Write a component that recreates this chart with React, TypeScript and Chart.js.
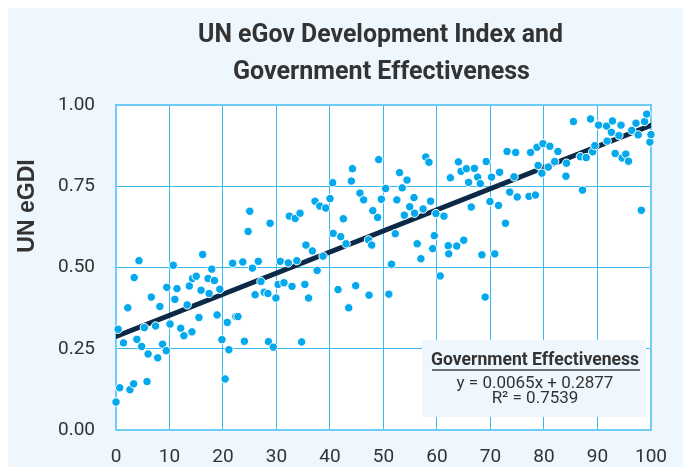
import React, { useEffect, useRef } from "react";
import { Chart, registerables } from "chart.js";

Chart.register(...registerables);

const titleLines = ["UN eGov Development Index and", "Government Effectiveness"];
const yAxisTitle = "UN eGDI";
const xMin = 0;
const xMax = 100;
const xStep = 10;
const yMin = 0;
const yMax = 1;
const yStep = 0.25;

const eGovX = [
  0.0, 0.7, 2.6, 3.3, 5.8, 0.4, 1.4, 2.2, 3.4, 4.3, 3.9, 4.8, 5.3, 6.0, 6.6, 7.4, 7.8, 8.2, 8.7, 9.4,
  9.5, 10.1, 10.7, 11.0, 11.4, 12.1, 12.7, 13.3, 13.7, 14.2, 14.3, 15.0, 15.5, 15.9, 16.2, 17.2, 17.4, 17.9, 18.4, 18.9,
  19.4, 19.8, 20.4, 20.8, 21.1, 21.8, 22.4, 22.8,
  23.7, 24.0, 24.7, 25.0, 25.5, 26.0, 26.6, 27.1, 27.7, 28.4, 28.5, 28.8, 29.4, 29.9, 30.3, 30.7, 31.4, 32.2, 32.4, 32.9,
  33.5, 33.8, 34.4, 34.7, 35.3, 35.5, 36.0, 36.7, 37.2, 37.6, 38.1, 38.7, 39.2, 40.0, 40.5, 40.6, 41.5, 42.0, 42.5, 43.0,
  43.5, 44.0, 44.2, 44.8, 45.6, 46.3,
  47.2, 47.3, 47.8, 48.0, 48.9, 49.1, 49.6, 50.4, 51.0, 51.5, 52.2, 52.5, 53.0, 53.5, 53.9, 54.4, 54.9, 55.7, 55.8, 56.3,
  57.0, 57.4, 57.9, 58.5, 58.8, 59.2, 59.5, 59.8, 60.6, 61.3, 62.1, 62.2, 62.5, 63.7, 64.0, 64.5, 65.0, 65.5, 65.9, 66.4,
  67.0, 67.6, 68.1, 68.4, 69.0, 69.2, 69.9, 70.2, 70.8, 71.5, 71.7,
  72.8, 73.1, 73.6, 74.4, 74.7, 75.0, 77.2, 77.5, 78.4, 78.7, 78.9, 79.6, 79.8, 80.8, 81.1, 82.0, 82.6, 84.1, 84.2, 85.5,
  86.8, 87.2, 87.9, 88.7, 89.1, 89.5, 90.2, 91.7, 91.8, 92.6, 92.8, 93.3, 94.0, 94.4, 94.6, 95.3, 95.8, 96.4, 97.2, 97.6,
  98.2, 98.8, 99.2, 99.8, 100.0,
];

const eGovY = [
  0.086, 0.13, 0.124, 0.142, 0.149, 0.31, 0.268, 0.376, 0.469, 0.521, 0.279, 0.257, 0.315, 0.234, 0.409, 0.32, 0.222, 0.38, 0.264, 0.244,
  0.439, 0.326, 0.507, 0.402, 0.435, 0.313, 0.29, 0.385, 0.443, 0.302, 0.466, 0.473, 0.346, 0.43, 0.54, 0.466, 0.42, 0.495, 0.46, 0.354,
  0.433, 0.278, 0.157, 0.331, 0.247, 0.513, 0.349, 0.349,
  0.517, 0.273, 0.611, 0.673, 0.498, 0.416, 0.519, 0.457, 0.424, 0.42, 0.272, 0.636, 0.255, 0.406, 0.448, 0.519, 0.453, 0.514, 0.658, 0.442,
  0.651, 0.521, 0.667, 0.271, 0.448, 0.569, 0.406, 0.551, 0.704, 0.491, 0.689, 0.535, 0.683, 0.712, 0.761, 0.605, 0.432, 0.595, 0.65, 0.573,
  0.376, 0.766, 0.804, 0.444, 0.729, 0.708,
  0.585, 0.415, 0.569, 0.675, 0.654, 0.832, 0.71, 0.743, 0.418, 0.51, 0.604, 0.708, 0.792, 0.745, 0.661, 0.769, 0.687, 0.715, 0.667, 0.573,
  0.527, 0.68, 0.84, 0.824, 0.704, 0.558, 0.598, 0.666, 0.474, 0.658, 0.567, 0.542, 0.776, 0.566, 0.825, 0.796, 0.584, 0.804, 0.762, 0.686,
  0.805, 0.778, 0.758, 0.539, 0.409, 0.826, 0.703, 0.778, 0.542, 0.691, 0.793,
  0.636, 0.857, 0.732, 0.779, 0.854, 0.717, 0.719, 0.854, 0.723, 0.87, 0.814, 0.79, 0.881, 0.809, 0.873, 0.826, 0.857, 0.781, 0.821, 0.949,
  0.841, 0.738, 0.838, 0.957, 0.856, 0.875, 0.938, 0.935, 0.889, 0.916, 0.951, 0.851, 0.906, 0.938, 0.837, 0.849, 0.827, 0.922, 0.944, 0.908,
  0.676, 0.949, 0.972, 0.886, 0.909,
];

const trendName = "Government Effectiveness";
const trendSlope = 0.0065;
const trendIntercept = 0.2877;
const trendR2 = 0.7539;
const trendXs = [0, 100];

const BG = "#eef7fd";
const GRID = "#3ab9f0";
const BORDER = "#6fcdf5";
const DOT = "#03a9ec";
const LINE = "#0c2a47";
const TEXT = "#333333";

// draw text centred at (cx, cy), stretched horizontally to the given width
function fittedText(ctx: any, text: string, cx: number, cy: number, font: string, width: number) {
  ctx.save();
  ctx.font = font;
  const w = ctx.measureText(text).width;
  const s = width / w;
  ctx.translate(cx, cy);
  ctx.scale(s, 1);
  ctx.textAlign = "center";
  ctx.textBaseline = "middle";
  ctx.fillText(text, 0, 0);
  ctx.restore();
}

export default function App() {
  const ref = useRef<HTMLCanvasElement | null>(null);

  useEffect(() => {
    if (!ref.current) return;
    const points = eGovX.map((x, i) => ({ x, y: eGovY[i] }));
    const trend = trendXs.map((x) => ({ x, y: trendSlope * x + trendIntercept }));

    const decor = {
      id: "decor",
      beforeDraw(chart: any) {
        const { ctx, chartArea: a } = chart;
        ctx.save();
        ctx.fillStyle = "#ffffff";
        ctx.fillRect(a.left, a.top, a.right - a.left, a.bottom - a.top);
        ctx.restore();
      },
      beforeDatasetsDraw(chart: any) {
        const { ctx, chartArea: a } = chart;
        ctx.save();
        ctx.strokeStyle = BORDER;
        ctx.lineWidth = 2;
        ctx.strokeRect(a.left, a.top, a.right - a.left, a.bottom - a.top);
        ctx.restore();
      },
      afterDraw(chart: any) {
        const { ctx } = chart;
        // chart title
        ctx.save();
        ctx.fillStyle = TEXT;
        fittedText(ctx, titleLines[0], 372.5, 28, "bold 25px Roboto, sans-serif", 365);
        fittedText(ctx, titleLines[1], 373.5, 65, "bold 25px Roboto, sans-serif", 297);
        ctx.restore();

        // y axis title
        ctx.save();
        ctx.translate(20, 198);
        ctx.rotate(-Math.PI / 2);
        ctx.fillStyle = TEXT;
        ctx.font = "bold 23px 'Liberation Sans', Arial, sans-serif";
        ctx.textAlign = "center";
        ctx.textBaseline = "middle";
        ctx.fillText(yAxisTitle, 0, 0);
        ctx.restore();

        // trend legend box
        ctx.save();
        ctx.fillStyle = BG;
        ctx.fillRect(414, 332, 224, 77);
        const cx = 527;
        ctx.fillStyle = TEXT;
        fittedText(ctx, trendName, cx, 352, "bold 18px Roboto, sans-serif", 208);
        ctx.strokeStyle = "#444";
        ctx.lineWidth = 1.5;
        ctx.beginPath();
        ctx.moveTo(424, 362);
        ctx.lineTo(632, 362);
        ctx.stroke();
        ctx.textAlign = "center";
        ctx.textBaseline = "middle";
        ctx.font = "17px Roboto, sans-serif";
        ctx.fillText(`y = ${trendSlope.toFixed(4)}x + ${trendIntercept.toFixed(4)}`, cx, 376);
        ctx.fillText(`R² = ${trendR2.toFixed(4)}`, cx, 391);
        ctx.restore();
      },
    };

    const chart = new Chart(ref.current, {
      type: "scatter",
      data: {
        datasets: [
          {
            type: "scatter",
            label: "UN eGDI",
            data: points,
            backgroundColor: DOT,
            borderColor: "#ffffff",
            borderWidth: 1,
            pointRadius: 4.2,
            clip: false as any,
            order: 0,
          },
          {
            type: "line",
            label: trendName,
            data: trend,
            borderColor: LINE,
            borderWidth: 5,
            borderCapStyle: "round",
            pointRadius: 0,
            fill: false,
            order: 1,
          } as any,
        ],
      },
      options: {
        animation: false,
        responsive: false,
        layout: { padding: { left: 0, right: 24, top: 97, bottom: 0 } },
        plugins: {
          legend: { display: false },
          tooltip: { enabled: false },
          title: { display: false },
        },
        scales: {
          x: {
            type: "linear",
            min: xMin,
            max: xMax,
            afterFit(scale: any) {
              scale.height = 37;
            },
            grid: { color: GRID, lineWidth: 1, drawTicks: false },
            border: { display: false },
            ticks: {
              stepSize: xStep,
              padding: 16,
              color: TEXT,
              font: { family: "Roboto, sans-serif", size: 19 },
              maxRotation: 0,
            },
          },
          y: {
            type: "linear",
            min: yMin,
            max: yMax,
            afterFit(scale: any) {
              scale.width = 108;
            },
            grid: { color: GRID, lineWidth: 1, drawTicks: false },
            border: { display: false },
            ticks: {
              stepSize: yStep,
              padding: 21,
              color: TEXT,
              font: { family: "Roboto, sans-serif", size: 19 },
              callback: (v: any) => Number(v).toFixed(2),
            },
          },
        },
      },
      plugins: [decor],
    });
    return () => chart.destroy();
  }, []);

  return (
    <div style={{ width: 675, height: 459, background: BG }}>
      <canvas ref={ref} width={675} height={459} style={{ display: "block" }} />
    </div>
  );
}
